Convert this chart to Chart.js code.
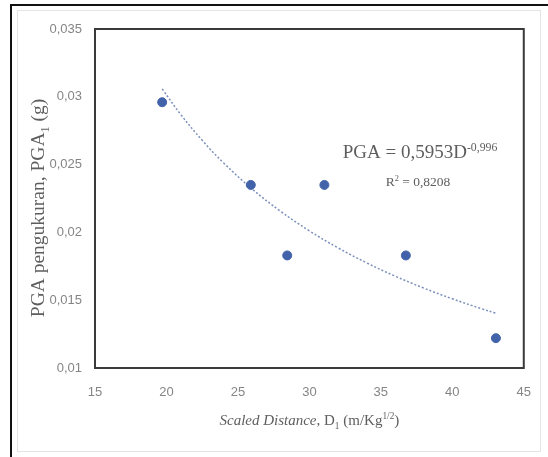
<!DOCTYPE html>
<html>
<head>
<meta charset="utf-8">
<script src="https://cdn.jsdelivr.net/npm/chart.js@4.4.1/dist/chart.umd.min.js"></script>
<style>
  html, body { margin: 0; padding: 0; background: #fff; }
  #wrap { position: relative; width: 548px; height: 457px; }
</style>
</head>
<body>
<div id="wrap"><canvas id="pgaChart" width="548" height="457"></canvas></div>
<script>
const distance = [19.7, 25.9, 28.45, 31.05, 36.75, 43.05];
const pgaMeasured = [0.0296, 0.0235, 0.0183, 0.0235, 0.0183, 0.0122];

// axis ticks
const xTicks = [15, 20, 25, 30, 35, 40, 45];
const yTicks = [0.01, 0.015, 0.02, 0.025, 0.03, 0.035];
const yTickLabels = ['0,01', '0,015', '0,02', '0,025', '0,03', '0,035'];

// power trendline shown on the chart: PGA = 0,5953 D^-0,996
const fitA = 0.5953;
const fitB = -0.996;
const trendX = [19.7, 21, 22.5, 24, 26, 28, 30, 32, 34, 36, 38, 40, 42, 43.05];

const labelFont = "'Liberation Serif', 'DejaVu Serif', serif";
const textColor = '#5e5e5e';

// draws a run of text pieces; kind = normal | italic | sub | sup
function drawRuns(ctx, runs, cx, cy, size) {
    const fontFor = (r) => {
        const s = (r.kind === 'sub' || r.kind === 'sup') ? size * 0.62 : size;
        return (r.kind === 'italic' ? 'italic ' : '') + s + 'px ' + labelFont;
    };
    let total = 0;
    runs.forEach(r => { ctx.font = fontFor(r); r.w = ctx.measureText(r.text).width; total += r.w; });
    let x = cx - total / 2;
    runs.forEach(r => {
        ctx.font = fontFor(r);
        let dy = 0;
        if (r.kind === 'sub') dy = size * 0.28;
        if (r.kind === 'sup') dy = -size * 0.38;
        ctx.fillText(r.text, x, cy + dy);
        x += r.w;
    });
}

const decorPlugin = {
    id: 'decor',
    beforeDraw(chart) {
        const ctx = chart.ctx;
        ctx.save();
        // faint chart-area frame
        ctx.strokeStyle = '#e4e4e4';
        ctx.lineWidth = 1;
        ctx.strokeRect(17.5, 10.5, 523, 441);
        // outer black frame (top and left only)
        ctx.strokeStyle = '#111';
        ctx.lineWidth = 2;
        ctx.beginPath();
        ctx.moveTo(11, 457);
        ctx.lineTo(11, 5);
        ctx.lineTo(548, 5);
        ctx.stroke();
        ctx.restore();
    },
    beforeDatasetsDraw(chart) {
        const { ctx, chartArea: a } = chart;
        ctx.save();
        ctx.strokeStyle = '#3a3a3a';
        ctx.lineWidth = 2;
        ctx.strokeRect(a.left, a.top, a.right - a.left, a.bottom - a.top);
        ctx.restore();
    },
    afterDraw(chart) {
        const { ctx, chartArea: a } = chart;
        ctx.save();
        ctx.fillStyle = textColor;
        ctx.textBaseline = 'alphabetic';
        ctx.textAlign = 'left';

        // x axis title
        drawRuns(ctx, [
            { text: 'Scaled Distance', kind: 'italic' },
            { text: ', D', kind: 'normal' },
            { text: '1', kind: 'sub' },
            { text: ' (m/Kg', kind: 'normal' },
            { text: '1/2', kind: 'sup' },
            { text: ')', kind: 'normal' }
        ], (a.left + a.right) / 2, 425, 15);

        // y axis title
        ctx.save();
        ctx.translate(44, 208);
        ctx.rotate(-Math.PI / 2);
        drawRuns(ctx, [
            { text: 'PGA pengukuran, PGA', kind: 'normal' },
            { text: '1', kind: 'sub' },
            { text: ' (g)', kind: 'normal' }
        ], 0, 0, 19.5);
        ctx.restore();

        // trendline equation
        drawRuns(ctx, [
            { text: 'PGA = 0,5953D', kind: 'normal' },
            { text: '-0,996', kind: 'sup' }
        ], 420, 158, 19);
        drawRuns(ctx, [
            { text: 'R', kind: 'normal' },
            { text: '2', kind: 'sup' },
            { text: ' = 0,8208', kind: 'normal' }
        ], 418, 186, 13.5);
        ctx.restore();
    }
};

const ctx = document.getElementById('pgaChart').getContext('2d');
new Chart(ctx, {
    type: 'scatter',
    data: {
        datasets: [{
            label: 'PGA',
            data: distance.map((d, i) => ({ x: d, y: pgaMeasured[i] })),
            backgroundColor: '#4263aa',
            borderColor: '#4263aa',
            pointRadius: 4.5,
            order: 1
        }, {
            label: 'Power trend',
            data: trendX.map(d => ({ x: d, y: fitA * Math.pow(d, fitB) })),
            showLine: true,
            borderColor: '#7b90bb',
            borderWidth: 1.5,
            borderDash: [2, 2],
            pointRadius: 0,
            tension: 0.4,
            fill: false,
            order: 2
        }]
    },
    options: {
        responsive: false,
        animation: false,
        layout: {
            padding: { top: 29, right: 16, bottom: 0, left: 0 }
        },
        plugins: {
            legend: { display: false },
            tooltip: { enabled: false }
        },
        scales: {
            x: {
                type: 'linear',
                min: 15,
                max: 45,
                afterBuildTicks: (scale) => { scale.ticks = xTicks.map(v => ({ value: v })); },
                afterFit: (scale) => { scale.height = 89; },
                grid: { display: false, drawTicks: false },
                border: { display: false },
                ticks: {
                    padding: 17,
                    color: '#858585',
                    font: { family: "'Liberation Sans Narrow', 'Liberation Sans', sans-serif", size: 13 }
                }
            },
            y: {
                type: 'linear',
                min: 0.01,
                max: 0.035,
                afterBuildTicks: (scale) => { scale.ticks = yTicks.map(v => ({ value: v })); },
                afterFit: (scale) => { scale.width = 95; },
                grid: { display: false, drawTicks: false },
                border: { display: false },
                ticks: {
                    padding: 13,
                    color: '#858585',
                    font: { family: "'Liberation Sans Narrow', 'Liberation Sans', sans-serif", size: 13 },
                    callback: (value, index) => yTickLabels[index]
                }
            }
        }
    },
    plugins: [decorPlugin]
});
</script>
</body>
</html>
